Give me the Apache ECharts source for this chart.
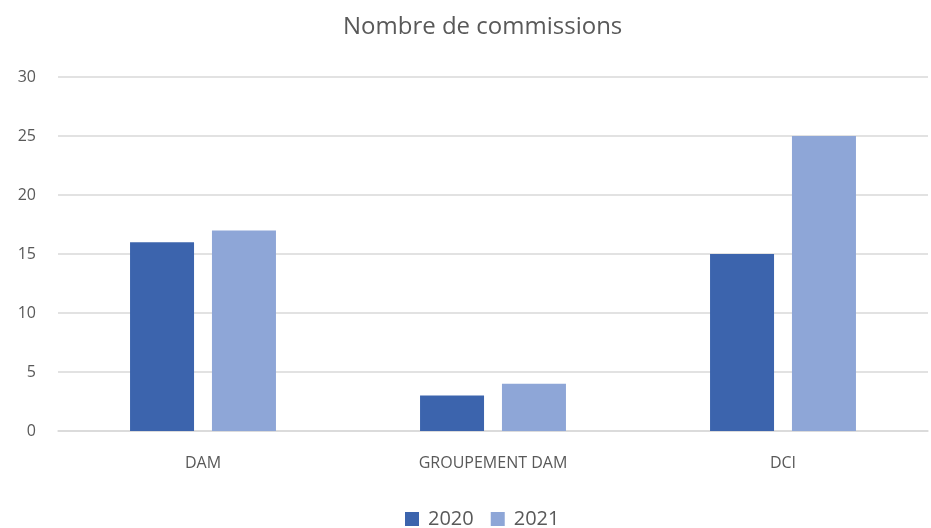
<!DOCTYPE html>
<html>
<head>
<meta charset="utf-8">
<script src="https://cdn.jsdelivr.net/npm/echarts@6/dist/echarts.min.js"></script>
<style>
  html, body { margin: 0; padding: 0; background: #fff; }
  #chart { width: 931px; height: 528px; }
</style>
</head>
<body>
<div id="chart"></div>
<script>
var categories = ['DAM', 'GROUPEMENT DAM', 'DCI'];
var values2020 = [16, 3, 15];
var values2021 = [17, 4, 25];
var yTicks = [0, 5, 10, 15, 20, 25, 30];

var myChart = echarts.init(document.getElementById('chart'));
var font = '"Open Sans", "Noto Sans", sans-serif';
option = {
    animation: false,
    title: {
        text: 'Nombre de commissions',
        left: 338,
        top: 10,
        textStyle: { fontFamily: font, fontSize: 24, fontWeight: 'normal', color: '#595959' }
    },
    legend: {
        data: ['2020', '2021'],
        bottom: -6,
        left: 400,
        itemWidth: 14,
        itemHeight: 14,
        itemGap: 17,
        icon: 'rect',
        textStyle: { fontFamily: font, fontSize: 20, color: '#595959', padding: [0, 0, 0, 4] }
    },
    grid: {
        left: 58,
        right: 3,
        top: 77,
        bottom: 97
    },
    xAxis: {
        type: 'category',
        data: categories,
        axisTick: { show: false },
        axisLine: { lineStyle: { color: '#d9d9d9', width: 1.5 } },
        axisLabel: { fontFamily: font, fontSize: 16, color: '#595959', margin: 24 }
    },
    yAxis: {
        type: 'value',
        min: yTicks[0],
        max: yTicks[yTicks.length - 1],
        interval: 5,
        axisLine: { show: false },
        axisTick: { show: false },
        splitLine: { lineStyle: { color: '#d9d9d9', width: 1.5 } },
        axisLabel: { fontFamily: font, fontSize: 16, color: '#595959', margin: 22 }
    },
    series: [
        {
            name: '2020',
            type: 'bar',
            data: values2020,
            barWidth: 64,
            barGap: '28%',
            itemStyle: { color: '#3c64ad' }
        },
        {
            name: '2021',
            type: 'bar',
            data: values2021,
            barWidth: 64,
            itemStyle: { color: '#8ea6d7' }
        }
    ]
};
myChart.setOption(option);
</script>
</body>
</html>
